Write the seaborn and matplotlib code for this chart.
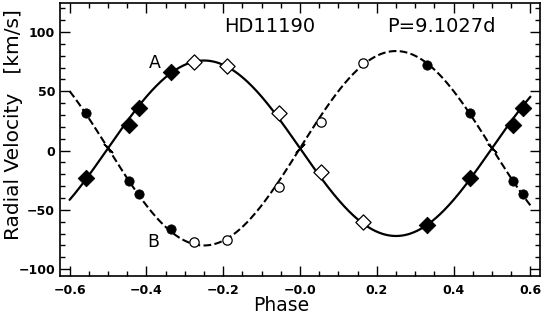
import numpy as np
import pandas as pd
import seaborn as sns
import matplotlib.pyplot as plt
from matplotlib.ticker import MultipleLocator, FixedLocator, FuncFormatter

# orbit solution
gamma = 2.0
K_A = 74.0
K_B = 82.0
period_label = "P=9.1027d"
star = "HD11190"

# observations, one cycle
phase_filled = [-0.446, -0.420, -0.337, 0.332, 0.442]
rv_A_filled = [22, 36, 66, -63, -23]
rv_B_filled = [-26, -37, -66, 72, 32]
phase_open = [-0.276, -0.191, -0.054, 0.055, 0.165]
rv_A_open = [74.5, 71.5, 31.5, -18.3, -60.4]
rv_B_open = [-77.3, -75.0, -31.0, 24.5, 74.0]

xmin, xmax = -0.625, 0.625


def wrap(ph, rv):
    # repeat points one cycle either side, keep what is on the plot
    rows = []
    for p, v in zip(ph, rv):
        for s in (-1, 0, 1):
            if xmin < p + s < xmax:
                rows.append((p + s, v))
    return pd.DataFrame(rows, columns=["phase", "rv"])


sns.set_style("ticks")
plt.rcParams['font.family'] = ['DejaVu Sans']
plt.rcParams.update({"text.color": "black", "axes.labelcolor": "black",
                     "xtick.color": "black", "ytick.color": "black",
                     "axes.edgecolor": "black"})

fig = plt.figure(figsize=(5.43, 3.18), dpi=100)
ax = fig.add_axes([0.1105, 0.133, 0.884, 0.8575])

grid = np.linspace(-0.6, 0.6, 500)
curve = pd.DataFrame({"phase": grid,
                      "A": gamma - K_A * np.sin(2 * np.pi * grid),
                      "B": gamma + K_B * np.sin(2 * np.pi * grid)})
sns.lineplot(data=curve, x="phase", y="A", ax=ax, color="black", lw=1.6)
sns.lineplot(data=curve, x="phase", y="B", ax=ax, color="black", lw=1.5,
             dashes=(5, 4.5), linestyle="--")

# small marks where A crosses gamma
for p, ang in [(-0.5, 45), (0.0, -45), (0.5, 45)]:
    ax.plot([p], [gamma], marker=(2, 2, ang), ms=9, mew=1.2, color="black")

sns.scatterplot(data=wrap(phase_filled, rv_A_filled), x="phase", y="rv", ax=ax,
                marker="D", s=70, color="black", edgecolor="black", zorder=5)
sns.scatterplot(data=wrap(phase_open, rv_A_open), x="phase", y="rv", ax=ax,
                marker="D", s=60, facecolor="white", edgecolor="black",
                linewidth=0.9, zorder=5)
sns.scatterplot(data=wrap(phase_filled, rv_B_filled), x="phase", y="rv", ax=ax,
                marker="o", s=45, color="black", edgecolor="black", zorder=5)
sns.scatterplot(data=wrap(phase_open, rv_B_open), x="phase", y="rv", ax=ax,
                marker="o", s=45, facecolor="white", edgecolor="black",
                linewidth=0.9, zorder=5)

ax.set_xlim(xmin, xmax)
ax.set_ylim(-105.5, 124.5)

ax.xaxis.set_major_locator(FixedLocator([-0.6, -0.4, -0.2, 0.0, 0.2, 0.4, 0.6]))
ax.xaxis.set_minor_locator(MultipleLocator(0.05))
ax.yaxis.set_major_locator(MultipleLocator(50))
ax.yaxis.set_minor_locator(MultipleLocator(10))
ax.xaxis.set_major_formatter(FuncFormatter(
    lambda v, pos: "\u22120.0" if abs(v) < 1e-9 else f"{v:.1f}".replace("-", "\u2212")))
ax.yaxis.set_major_formatter(FuncFormatter(
    lambda v, pos: f"{v:.0f}".replace("-", "\u2212")))
ax.tick_params(which="both", direction="in", top=True, right=True, width=1.0)
ax.tick_params(which="major", length=7, labelsize=9)
ax.tick_params(axis="x", which="major", pad=6)
ax.tick_params(which="minor", length=3.5)
for lab in ax.get_xticklabels() + ax.get_yticklabels():
    lab.set_fontweight("bold")
for sp in ax.spines.values():
    sp.set_visible(True)
    sp.set_linewidth(1.2)

ax.set_xlabel("Phase", fontsize=13.5)
ax.set_ylabel("Radial Velocity   [km/s]", fontsize=14.5)
ax.xaxis.set_label_coords(0.46, -0.075)
ax.yaxis.set_label_coords(-0.096, 0.553)
ax.yaxis.label.set_va("center")
ax.xaxis.label.set_va("top")

ax.text(-0.198, 105, star, fontsize=14, va="center")
ax.text(0.227, 105, period_label, fontsize=14, va="center")
ax.text(-0.378, 74, "A", fontsize=12.5, va="center", ha="center")
ax.text(-0.383, -77, "B", fontsize=12.5, va="center", ha="center")

fig.savefig("out.png", dpi=100)
